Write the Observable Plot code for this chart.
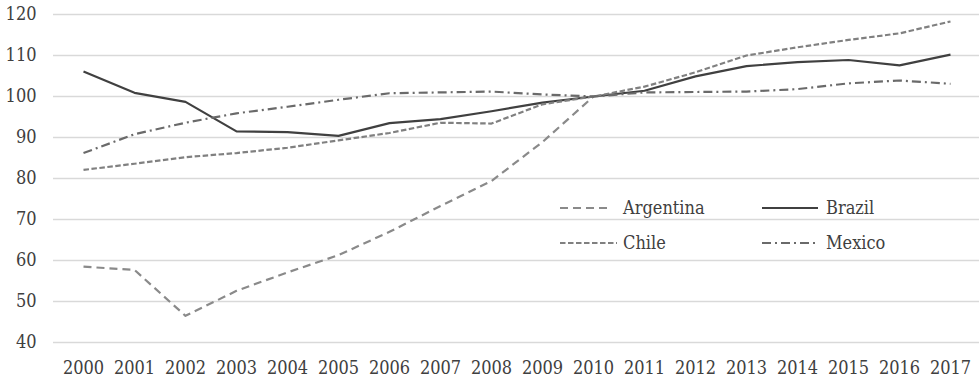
<!DOCTYPE html>
<html>
<head>
<meta charset="utf-8">
<script src="https://cdn.jsdelivr.net/npm/d3@7"></script>
<script src="https://cdn.jsdelivr.net/npm/@observablehq/plot@0.6"></script>
<style>
  html, body { margin: 0; padding: 0; background: #fff; }
  #wrap { position: relative; width: 980px; height: 379px; }
  .leg { position: absolute; display: flex; align-items: center; font-family: "DejaVu Serif Condensed", serif; font-size: 18px; color: #404040; line-height: 1; }
  .leg svg { display: block; }
</style>
</head>
<body>
<div id="wrap"></div>
<script>
// Index values, 2010 = 100
const years = [2000, 2001, 2002, 2003, 2004, 2005, 2006, 2007, 2008, 2009,
               2010, 2011, 2012, 2013, 2014, 2015, 2016, 2017];
const argentina = [58.5, 57.7, 46.5, 52.6, 57.1, 61.3, 67.0, 73.3, 79.4, 88.9, 100.0];
const brazil = [106.1, 100.9, 98.7, 91.5, 91.3, 90.4, 93.5, 94.5, 96.4, 98.5,
                100.0, 101.4, 104.9, 107.4, 108.4, 108.9, 107.6, 110.2];
const chile = [82.1, 83.6, 85.2, 86.2, 87.5, 89.3, 91.1, 93.6, 93.4, 98.1,
               100.0, 102.4, 105.9, 110.0, 112.0, 113.8, 115.4, 118.3];
const mexico = [86.2, 90.8, 93.6, 95.9, 97.5, 99.2, 100.8, 101.0, 101.2, 100.5,
                100.0, 101.0, 101.1, 101.2, 101.8, 103.2, 103.9, 103.1];
const yTicks = [40, 50, 60, 70, 80, 90, 100, 110, 120];

// Line styles for each country
const styles = [
  {name: "Argentina", values: argentina, stroke: "#8a8a8a", dash: "8,5", width: 2.2},
  {name: "Brazil",    values: brazil,    stroke: "#404040", dash: null,  width: 2.2},
  {name: "Chile",     values: chile,     stroke: "#808080", dash: "5.5,2.5", width: 2.2},
  {name: "Mexico",    values: mexico,    stroke: "#6a6a6a", dash: "9,4,2,4", width: 2.2}
];

const rows = styles.map(s => s.values.map((v, i) => ({country: s.name, year: years[i], value: v})));

const chart = Plot.plot({
  width: 980,
  height: 379,
  marginLeft: 53,
  marginRight: 1,
  marginTop: 14,
  marginBottom: 37,
  style: {fontFamily: "'DejaVu Serif Condensed', serif", fontSize: "18px", color: "#404040", background: "#fff"},
  x: {type: "point", domain: years, padding: 0.5},
  y: {domain: [40, 120]},
  marks: [
    Plot.ruleY(yTicks, {stroke: "#d9d9d9", strokeWidth: 1.4}),
    Plot.axisY({ticks: yTicks, tickSize: 0, tickPadding: 17, label: null, fill: "#404040"}),
    Plot.axisX({ticks: years, tickSize: 0, tickPadding: 19, label: null, tickFormat: d => String(d), fill: "#404040"}),
    ...styles.map((s, k) => Plot.line(rows[k], {
      x: "year", y: "value",
      stroke: s.stroke, strokeWidth: s.width,
      strokeDasharray: s.dash, strokeLinejoin: "round", strokeLinecap: "butt"
    }))
  ]
});

const wrap = document.getElementById("wrap");
wrap.appendChild(chart);

// Legend placed inside the plot area, two rows of two entries
const legendPos = {
  Argentina: {left: 560, top: 208, len: 52, gap: 11},
  Brazil:    {left: 762, top: 208, len: 56, gap: 8},
  Chile:     {left: 560, top: 243, len: 57, gap: 6},
  Mexico:    {left: 762, top: 243, len: 56, gap: 8}
};
styles.forEach(s => {
  const p = legendPos[s.name];
  const div = document.createElement("div");
  div.className = "leg";
  div.style.left = p.left + "px";
  div.style.top = (p.top - 11) + "px";
  div.style.height = "22px";
  const svg = d3.create("svg").attr("width", p.len + p.gap).attr("height", 22);
  svg.append("line")
    .attr("x1", 0).attr("x2", p.len).attr("y1", 11).attr("y2", 11)
    .attr("stroke", s.stroke).attr("stroke-width", s.width)
    .attr("stroke-dasharray", s.dash);
  div.appendChild(svg.node());
  const span = document.createElement("span");
  span.textContent = s.name;
  div.appendChild(span);
  wrap.appendChild(div);
});
</script>
</body>
</html>
